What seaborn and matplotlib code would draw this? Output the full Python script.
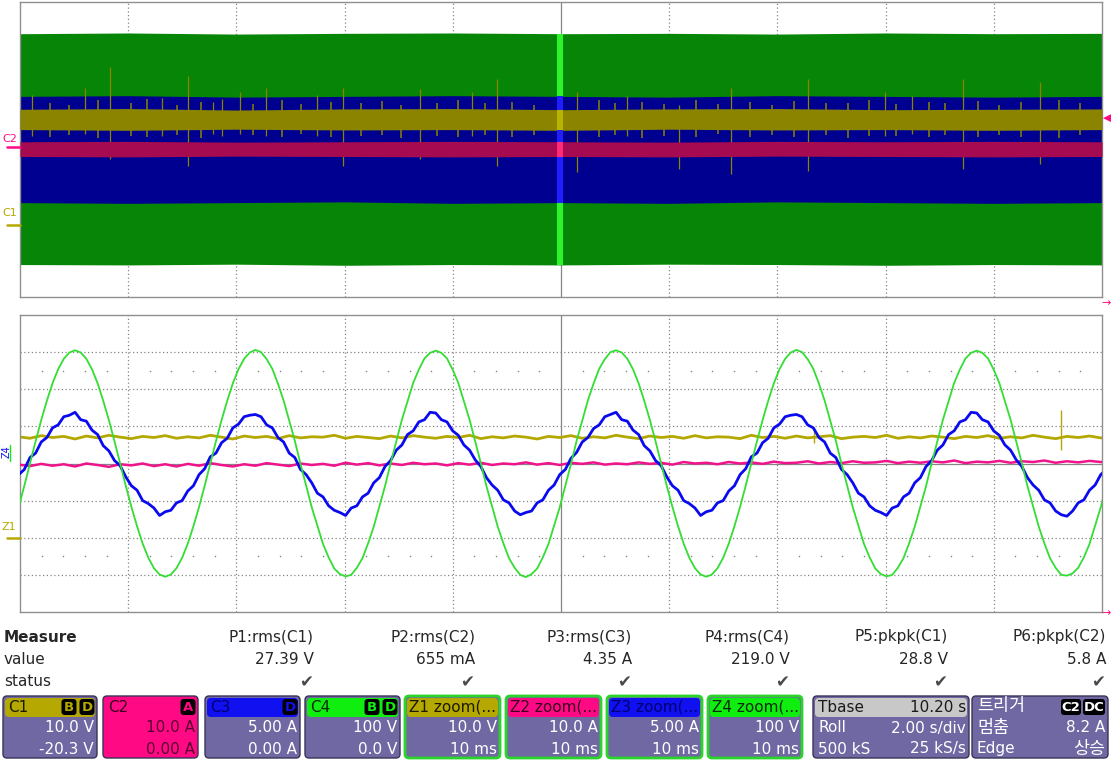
"""
Oscilloscope capture: roll view (top) and 10 ms zoom view (bottom) of C1..C4.
"""
import numpy as np
import pandas as pd
import matplotlib
matplotlib.use('Agg')
import matplotlib.pyplot as plt
from matplotlib.patches import FancyBboxPatch
import seaborn as sns

# --- channel settings (from the channel boxes) ---
channels = ['C1', 'C2', 'C3', 'C4']
units_per_div = [10.0, 10.0, 5.0, 100.0]
offsets = [-20.3, 0.0, 0.0, 0.0]
roll_s_per_div = 2.0
zoom_ms_per_div = 10.0

# --- roll view: envelopes ---
roll_t_s = [0, 2, 4, 6, 8, 10, 12, 14, 16, 18, 20]
c4_roll_hi = [314, 316, 313, 315, 316, 314, 315, 313, 316, 314, 315]
c4_roll_lo = [-312, -313, -311, -314, -312, -313, -311, -312, -314, -312, -313]
c3_roll_hi = [7.2, 7.3, 7.1, 7.2, 7.3, 7.2, 7.1, 7.3, 7.2, 7.1, 7.2]
c3_roll_lo = [-7.2, -7.3, -7.2, -7.1, -7.3, -7.2, -7.3, -7.1, -7.2, -7.3, -7.2]
c1_roll_hi = [31.2, 31.4, 31.0, 31.3, 31.4, 31.1, 31.3, 31.4, 31.1, 31.2, 31.3]
c1_roll_lo = [25.7, 25.5, 25.8, 25.6, 25.7, 25.5, 25.8, 25.6, 25.7, 25.5, 25.7]
c2_roll_hi = [2.1, 2.2, 2.0, 2.1, 2.2, 2.1, 2.0, 2.2, 2.1, 2.2, 2.1]
c2_roll_lo = [-1.9, -2.0, -1.8, -1.9, -2.0, -1.9, -2.0, -1.8, -1.9, -2.0, -1.9]

# C1 glitches visible in the roll view (tall ones)
c1_spike_t_s = [0.23, 1.20, 1.66, 2.62, 3.11, 3.57, 3.73, 4.07, 4.55, 5.49, 5.97, 7.39,
                8.35, 8.82, 10.30, 11.22, 12.18, 13.14, 14.57, 15.99, 16.49, 17.43, 18.85]
c1_spike_hi = [35.2, 37.1, 42.8, 34.4, 40.1, 33.3, 33.9, 36.0, 37.1, 35.2, 37.1, 36.6,
               36.0, 39.3, 35.8, 34.7, 32.5, 37.1, 39.3, 35.8, 34.7, 39.3, 38.5]
c1_spike_lo = [24.0, 24.5, 17.6, 24.0, 15.7, 24.5, 24.0, 24.5, 24.0, 24.0, 15.7, 17.6,
               24.0, 15.7, 14.1, 24.0, 14.9, 13.6, 14.4, 24.0, 24.5, 14.9, 16.3]
# short ripples on the C1 band edge
c1_tick_t_s = [0.55, 0.90, 1.45, 2.05, 2.35, 2.90, 3.35, 4.30, 4.85, 5.20, 5.75, 6.30, 6.70,
               7.05, 7.70, 8.10, 8.60, 9.10, 9.50, 10.70, 11.00, 11.50, 11.90, 12.50, 12.90,
               13.50, 13.90, 14.30, 14.90, 15.30, 15.70, 16.20, 16.80, 17.10, 17.70, 18.10,
               18.50, 19.20, 19.60]
c1_tick_hi = [33.0, 32.4, 33.6, 32.8, 33.9, 32.5, 33.2, 32.7, 33.8, 32.6, 33.1, 32.9, 33.5,
              32.4, 33.0, 33.7, 32.8, 33.3, 32.5, 33.6, 32.9, 33.1, 32.6, 33.8, 32.7, 33.2,
              32.5, 33.4, 32.9, 33.0, 33.6, 32.6, 33.3, 32.8, 33.5, 32.4, 33.1, 33.7, 32.8]
c1_tick_lo = [23.6, 24.2, 23.4, 24.0, 23.8, 24.3, 23.5, 24.1, 23.7, 24.4, 23.6, 23.9, 24.2,
              23.5, 24.0, 23.7, 24.3, 23.6, 24.1, 23.8, 24.2, 23.5, 24.0, 23.7, 24.4, 23.6,
              24.1, 23.8, 24.3, 23.5, 24.0, 23.9, 23.6, 24.2, 23.7, 24.1, 23.8, 23.5, 24.2]

# --- zoom view (10 ms/div) ---
zoom_start_ms = -0.12
# C4 and C3 read every ~0.52 ms
fine_step_ms = 0.52085
z4_volts = [-117, -60, 0, 60, 117, 169, 216, 254, 282, 299,
            305, 299, 282, 254, 216, 169, 117, 60, 0, -60, -117, -169, -216, -254, -282, -299,
            -305, -299, -282, -254, -216, -169, -117, -60, 0, 60, 117, 169, 216, 254, 282, 299,
            306, 300, 281, 255, 215, 170, 116, 61, -1, -59, -118, -168, -217, -253, -283, -298,
            -304, -300, -281, -255, -215, -170, -116, -61, 1, 59, 118, 168, 217, 253, 283, 298,
            304, 298, 283, 253, 217, 168, 118, 59, 1, -61, -116, -170, -215, -255, -281, -300,
            -306, -298, -283, -253, -217, -168, -118, -59, -1, 61, 116, 170, 215, 255, 281, 300,
            305, 299, 282, 254, 216, 169, 117, 60, 0, -60, -117, -169, -216, -254, -282, -299,
            -305, -299, -282, -254, -216, -169, -117, -60, 0, 60, 117, 169, 216, 254, 282, 299,
            306, 300, 281, 255, 215, 170, 116, 61, -1, -59, -118, -168, -217, -253, -283, -298,
            -304, -300, -281, -255, -215, -170, -116, -61, 1, 59, 118, 168, 217, 253, 283, 298,
            304, 298, 283, 253, 217, 168, 118, 59, 1, -61, -116, -170, -215, -255, -281, -300,
            -302, -296, -281, -253, -217, -168, -118, -59, -1, 61]
z3_amps = [-1.5, -0.8, 0.8, 1.4, 2.9, 3.5, 4.8, 5.2, 6.3, 6.5,
           6.9, 5.9, 5.7, 4.5, 3.9, 2.4, 1.7, 0.4, -0.3, -1.8, -3.0, -3.6, -5.0, -5.4, -6.0, -7.0,
           -6.5, -6.3, -5.3, -5.0, -3.7, -3.0, -1.5, -0.7, 0.9, 1.4, 2.8, 3.4, 4.8, 5.3, 6.3, 6.5,
           6.6, 6.3, 5.2, 4.8, 3.5, 2.9, 1.4, 0.8, -0.8, -1.5, -2.6, -4.0, -4.5, -5.7, -6.3, -6.6,
           -7.0, -6.0, -5.7, -4.5, -4.0, -2.6, -1.9, -0.4, 0.4, 1.8, 2.5, 3.9, 4.4, 5.6, 5.9, 6.9,
           6.8, 5.9, 5.6, 4.4, 3.8, 2.5, 1.8, 0.5, -0.4, -1.9, -2.9, -3.6, -4.9, -5.3, -6.4, -6.9,
           -6.6, -6.4, -5.3, -4.9, -3.6, -2.9, -1.5, -0.8, 0.7, 1.5, 2.9, 3.5, 4.7, 5.2, 6.3, 6.6,
           6.9, 5.9, 5.7, 4.5, 3.9, 2.4, 1.7, 0.4, -0.3, -1.8, -3.0, -3.6, -5.0, -5.4, -6.0, -7.0,
           -6.5, -6.3, -5.3, -5.0, -3.7, -3.0, -1.5, -0.7, 0.9, 1.4, 2.8, 3.4, 4.8, 5.3, 6.3, 6.5,
           6.6, 6.3, 5.2, 4.8, 3.5, 2.9, 1.4, 0.8, -0.8, -1.5, -2.6, -4.0, -4.5, -5.7, -6.3, -6.6,
           -7.0, -6.0, -5.7, -4.5, -4.0, -2.6, -1.9, -0.4, 0.4, 1.8, 2.5, 3.9, 4.4, 5.6, 5.9, 6.9,
           6.8, 5.9, 5.6, 4.4, 3.8, 2.5, 1.8, 0.5, -0.4, -1.9, -2.9, -3.6, -4.9, -5.3, -6.4, -6.9,
           -7.1, -6.4, -5.3, -4.9, -3.6, -2.9, -1.5, -0.8, 0.7, 1.5]
# C1 and C2 read every ~1.04 ms
coarse_step_ms = 1.0417
z1_volts = [27.5, 27.1, 27.8, 27.3, 27.6, 26.9, 27.7, 27.2, 27.9, 27.4,
            27.0, 27.6, 27.3, 27.8, 27.1, 27.5, 27.2, 27.9, 27.4, 26.9,
            27.7, 27.3, 27.6, 27.0, 27.8, 27.2, 27.5, 27.4, 27.9, 27.1,
            27.6, 27.3, 27.0, 27.7, 27.2, 27.8, 27.4, 27.1, 27.6, 27.3,
            27.9, 27.0, 27.5, 27.2, 27.7, 27.4, 26.9, 27.6, 27.3, 27.8,
            27.1, 27.5, 27.2, 27.9, 27.4, 27.0, 27.7, 27.3, 27.6, 27.1,
            27.8, 27.2, 27.5, 27.4, 27.0, 27.9, 27.3, 27.6, 27.1, 27.7,
            27.2, 27.5, 27.8, 27.0, 27.4, 27.6, 27.3, 27.9, 27.1, 27.5,
            27.2, 27.7, 27.4, 27.0, 27.6, 27.3, 27.8, 27.1, 27.5, 27.2,
            27.9, 27.4, 27.0, 27.6, 27.3, 27.7, 27.2, 27.5]
z2_amps = [-0.3, -0.7, -0.1, -0.6, -0.2, -0.8, 0.0, -0.4, -0.9, -0.2,
           -0.5, 0.0, -0.7, -0.2, -0.8, -0.1, -0.6, 0.1, -0.4, -0.8,
           -0.2, -0.6, 0.1, -0.3, -0.7, 0.0, -0.4, -0.1, -0.6, 0.2,
           -0.3, 0.1, -0.5, 0.0, -0.4, 0.2, -0.2, 0.0, -0.5, 0.1,
           -0.3, 0.2, -0.4, 0.0, -0.2, 0.3, -0.3, 0.1, -0.4, 0.2,
           -0.1, 0.3, -0.3, 0.0, -0.2, 0.3, -0.1, 0.2, -0.3, 0.4,
           0.0, 0.2, -0.2, 0.4, 0.0, 0.3, -0.1, 0.5, 0.1, 0.2,
           0.6, 0.0, 0.4, 0.1, 0.6, 0.2, 0.3, 0.7, 0.1, 0.5,
           0.2, 0.6, 0.3, 0.8, 0.1, 0.5, 0.3, 0.7, 0.2, 0.6,
           0.4, 0.8, 0.2, 0.6, 0.3, 0.7, 0.4, 0.6]
z1_spike_t_ms = [73.4, 96.2]
z1_spike_hi = [29.6, 34.6]
z1_spike_lo = [25.8, 23.9]

# --- measurement table and channel box texts ---
meas_names = ['P1:rms(C1)', 'P2:rms(C2)', 'P3:rms(C3)', 'P4:rms(C4)', 'P5:pkpk(C1)', 'P6:pkpk(C2)']
meas_values = ['27.39 V', '655 mA', '4.35 A', '219.0 V', '28.8 V', '5.8 A']
chan_scale_text = ['10.0 V', '10.0 A', '5.00 A', '100 V']
chan_offset_text = ['-20.3 V', '0.00 A', '0.00 A', '0.0 V']
zoom_names = ['Z1', 'Z2', 'Z3', 'Z4']
zoom_scale_text = ['10.0 V', '10.0 A', '5.00 A', '100 V']
zoom_time_text = ['10 ms', '10 ms', '10 ms', '10 ms']


def to_div(ch, values):
    i = channels.index(ch)
    return (np.asarray(values, dtype=float) + offsets[i]) / units_per_div[i]


sns.set_style('white')
plt.rcParams['font.family'] = ['DejaVu Sans', 'Noto Sans CJK KR']

W, H = 1111, 763
fig = plt.figure(figsize=(W / 100, H / 100), dpi=100)
fig.patch.set_facecolor('white')


def px_axes(left, top, right, bottom):
    return fig.add_axes([left / W, 1 - bottom / H, (right - left) / W, (bottom - top) / H])


ax_top = px_axes(20, 2, 1102, 297)
ax_bot = px_axes(20, 315, 1102, 612)

GRID = '#858585'
for ax in (ax_top, ax_bot):
    for i in range(1, 10):
        ax.axvline(i, color=GRID, lw=0.9, ls='-' if i == 5 else (0, (1, 2)), zorder=0.5)
    for j in range(-3, 4):
        ax.axhline(j, color=GRID, lw=0.9, ls='-' if j == 0 else (0, (1, 2)), zorder=0.5)
    for sp in ax.spines.values():
        sp.set_color('#8f8f8f')
        sp.set_linewidth(1.0)

# minor dots at +-2.5 div in the zoom view
dot_x = [i * 0.2 for i in range(1, 50) if i % 5 != 0]
for yy in (2.5, -2.5):
    ax_bot.scatter(dot_x, [yy] * len(dot_x), s=1.2, color=GRID, zorder=0.5, linewidths=0)

# ---- roll view ----
rx = np.asarray(roll_t_s) / roll_s_per_div
dark = {'C4': '#078507', 'C3': '#000090', 'C1': '#8a8400', 'C2': '#a60a50'}
bright = {'C4': '#2cf52c', 'C3': '#1e1eff', 'C1': '#b8b400', 'C2': '#ff2a78'}
env = {'C4': (c4_roll_lo, c4_roll_hi), 'C3': (c3_roll_lo, c3_roll_hi),
       'C1': (c1_roll_lo, c1_roll_hi), 'C2': (c2_roll_lo, c2_roll_hi)}
for z, ch in enumerate(['C4', 'C3', 'C1', 'C2']):
    lo, hi = env[ch]
    ax_top.fill_between(rx, to_div(ch, lo), to_div(ch, hi), color=dark[ch], lw=0, zorder=1 + z)
    if ch == 'C1':
        ax_top.vlines(np.asarray(c1_spike_t_s) / roll_s_per_div, to_div('C1', c1_spike_lo),
                      to_div('C1', c1_spike_hi), color=dark['C1'], lw=0.9, zorder=1 + z)
        ax_top.vlines(np.asarray(c1_tick_t_s) / roll_s_per_div, to_div('C1', c1_tick_lo),
                      to_div('C1', c1_tick_hi), color=dark['C1'], lw=1.1, zorder=1 + z)

# bright strip at the zoom window position
k = roll_t_s.index(10)
strip = np.array([9.93, 10.04]) / roll_s_per_div
for z, ch in enumerate(['C4', 'C3', 'C1', 'C2']):
    lo, hi = env[ch]
    ax_top.fill_between(strip, to_div(ch, lo[k]), to_div(ch, hi[k]), color=bright[ch], lw=0, zorder=10 + z)

# ---- zoom view ----
fine_t = zoom_start_ms + fine_step_ms * np.arange(len(z4_volts))
coarse_t = zoom_start_ms + coarse_step_ms * np.arange(len(z1_volts))
df_fine = pd.DataFrame({'t': fine_t / zoom_ms_per_div,
                        'Z3': to_div('C3', z3_amps), 'Z4': to_div('C4', z4_volts)})
df_coarse = pd.DataFrame({'t': coarse_t / zoom_ms_per_div,
                          'Z1': to_div('C1', z1_volts), 'Z2': to_div('C2', z2_amps)})
trace_style = [('Z1', df_coarse, '#b2a800', 2.0), ('Z2', df_coarse, '#f0148c', 1.8),
               ('Z3', df_fine, '#0a0af0', 2.0), ('Z4', df_fine, '#33dd33', 1.3)]
for z, (name, d, color, lw) in enumerate(trace_style):
    sns.lineplot(data=d, x='t', y=name, ax=ax_bot, color=color, linewidth=lw,
                 estimator=None, sort=False, legend=False, zorder=2 + z)
ax_bot.vlines(np.asarray(z1_spike_t_ms) / zoom_ms_per_div, to_div('C1', z1_spike_lo),
              to_div('C1', z1_spike_hi), color='#b2a800', lw=1.0, zorder=2)

for ax in (ax_top, ax_bot):
    ax.set_xlim(0, 10)
    ax.set_ylim(-4, 4)
    ax.set_xticks([])
    ax.set_yticks([])
    ax.set_xlabel('')
    ax.set_ylabel('')

# ---- overlay in pixel coordinates for markers, table and boxes ----
ov = fig.add_axes([0, 0, 1, 1])
ov.set_xlim(0, W)
ov.set_ylim(H, 0)
ov.axis('off')

YEL, PINK, BLUE, GRN = '#b5a800', '#ff0a84', '#1010f0', '#10ee10'

# ground markers on the left
ov.text(2, 139, 'C2', color=PINK, fontsize=8, va='center', ha='left')
ov.plot([7, 20], [147, 147], color=PINK, lw=1.8)
ov.text(2, 213, 'C1', color=YEL, fontsize=8, va='center', ha='left')
ov.plot([7, 20], [225, 225], color=YEL, lw=1.8)
ov.text(7, 452, 'Z4', color=BLUE, fontsize=7, va='center', ha='center', rotation=90)
ov.plot([10, 10], [445, 461], color=GRN, lw=1.0)
ov.text(2, 527, 'Z1', color=YEL, fontsize=8, va='center', ha='left')
ov.plot([7, 20], [538, 538], color=YEL, lw=1.8)

# right side markers
ov.text(1111, 118, '\u25c0', color=PINK, fontsize=8, va='center', ha='right')
ov.text(1111, 303, '\u2192', color=PINK, fontsize=8, va='center', ha='right')
ov.text(1111, 613, '\u2192', color=PINK, fontsize=8, va='center', ha='right')

# measurement table
FS = 11
ov.text(4, 637, 'Measure', fontsize=FS, fontweight='bold', va='center', ha='left')
ov.text(4, 660, 'value', fontsize=FS, va='center', ha='left')
ov.text(4, 682, 'status', fontsize=FS, va='center', ha='left')
col_right = [314, 475, 632, 790, 948, 1106]
for xr, name, val in zip(col_right, meas_names, meas_values):
    ov.text(xr, 637, name, fontsize=FS, va='center', ha='right')
    ov.text(xr, 660, val, fontsize=FS, va='center', ha='right')
    ov.text(xr - 1, 682, '\u2714', fontsize=12, color='#4a4a4a', va='center', ha='right')

BODY = '#7068a2'
WHITE = 'white'


def box(x0, x1, body=BODY, edge='#3a3358', elw=1.0, head=None):
    ov.add_patch(FancyBboxPatch((x0, 696), x1 - x0, 62, boxstyle='round,pad=0,rounding_size=4',
                                fc=body, ec=edge, lw=elw))
    if head is not None:
        ov.add_patch(FancyBboxPatch((x0 + 2, 698), x1 - x0 - 4, 19,
                                    boxstyle='round,pad=0,rounding_size=4', fc=head, ec='none'))


def badge(xc, txt, fg, w=15):
    ov.add_patch(FancyBboxPatch((xc - w / 2, 699), w, 16, boxstyle='round,pad=0,rounding_size=3',
                                fc='black', ec='none'))
    ov.text(xc, 707.5, txt, color=fg, fontsize=9.5, fontweight='bold', va='center', ha='center')


def body_lines(x0, x1, right, left=None, fg=WHITE):
    for y, s in zip((728, 749), right):
        ov.text(x1 - 3, y, s, color=fg, fontsize=FS, va='center', ha='right')
    if left:
        for y, s in zip((728, 749), left):
            ov.text(x0 + 5, y, s, color=fg, fontsize=FS, va='center', ha='left')


chan_x = [(3, 97), (103, 198), (205, 300), (305, 400)]
chan_head = [YEL, PINK, BLUE, GRN]
chan_head_fg = ['#1a1a00', '#3a0020', '#000070', '#0a2a0a']
chan_badges = [[('B', YEL), ('D', YEL)], [('A', PINK)], [('D', BLUE)], [('B', GRN), ('D', GRN)]]
for i, ch in enumerate(channels):
    x0, x1 = chan_x[i]
    if ch == 'C2':
        box(x0, x1, body=PINK, head=PINK)
        fg = '#5a0030'
    else:
        box(x0, x1, head=chan_head[i])
        fg = WHITE
    ov.text(x0 + 5, 707, ch, color=chan_head_fg[i], fontsize=FS, va='center', ha='left')
    bl = chan_badges[i]
    for j, (t, c) in enumerate(bl):
        badge(x1 - 10 - 18 * (len(bl) - 1 - j), t, c)
    body_lines(x0, x1, [chan_scale_text[i], chan_offset_text[i]], fg=fg)

zoom_x = [(405, 500), (506, 601), (607, 702), (708, 802)]
for i, zname in enumerate(zoom_names):
    x0, x1 = zoom_x[i]
    box(x0, x1, edge='#2bd42b', elw=2.0, head=chan_head[i])
    ov.text(x0 + 4, 707, zname + ' zoom(...', color=chan_head_fg[i], fontsize=FS, va='center', ha='left')
    body_lines(x0, x1, [zoom_scale_text[i], zoom_time_text[i]])

# timebase box
box(813, 969, head='#c8c8c8')
ov.text(818, 707, 'Tbase', color='#1a1a1a', fontsize=FS, va='center', ha='left')
ov.text(966, 707, '10.20 s', color='#1a1a1a', fontsize=FS, va='center', ha='right')
body_lines(813, 969, ['2.00 s/div', '25 kS/s'], ['Roll', '500 kS'])

# trigger box (Korean labels a bit larger, as on screen)
box(972, 1108)
ov.text(977, 706, '트리거', color=WHITE, fontsize=12.5, va='center', ha='left')
badge(1071, 'C2', WHITE, w=20)
badge(1094, 'DC', WHITE, w=22)
ov.text(977, 728, '멈춤', color=WHITE, fontsize=12.5, va='center', ha='left')
ov.text(1105, 728, '8.2 A', color=WHITE, fontsize=FS, va='center', ha='right')
ov.text(977, 749, 'Edge', color=WHITE, fontsize=FS, va='center', ha='left')
ov.text(1105, 749, '상승', color=WHITE, fontsize=12.5, va='center', ha='right')

fig.savefig('out.png', dpi=100)
